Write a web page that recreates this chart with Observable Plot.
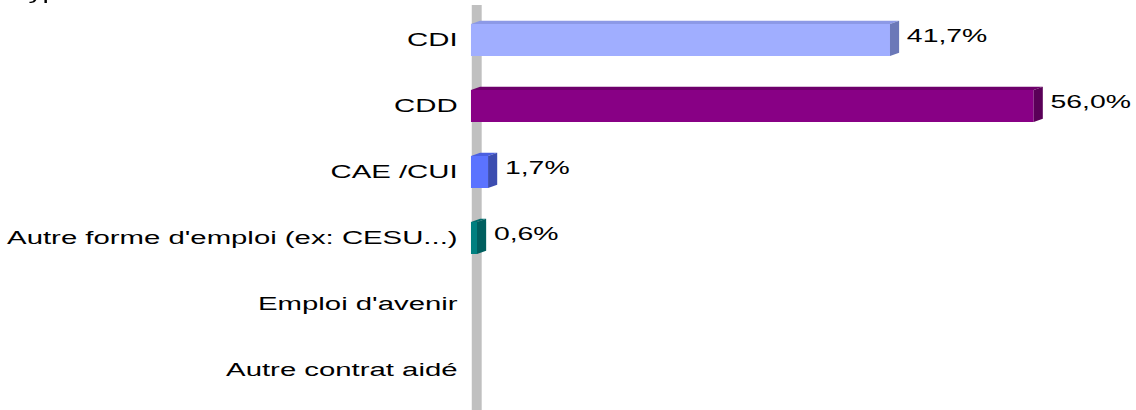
<!DOCTYPE html>
<html>
<head>
<meta charset="utf-8">
<script src="https://cdn.jsdelivr.net/npm/d3@7"></script>
<script src="https://cdn.jsdelivr.net/npm/@observablehq/plot@0.6"></script>
<style>
  html, body { margin: 0; padding: 0; background: #fff; overflow: hidden; }
  #wrap { position: relative; width: 720px; height: 410px; transform: scaleX(1.5778); transform-origin: 0 0; }
  #title { position: absolute; left: 8px; top: -16px; font: 18px "Liberation Sans", Arial, sans-serif; color: #000; line-height: 1; white-space: nowrap; }
</style>
</head>
<body>
<div id="wrap"><div id="title">Type de contrat</div></div>
<script>
const categories = ["CDI", "CDD", "CAE /CUI", "Autre forme d'emploi (ex: CESU...)", "Emploi d'avenir", "Autre contrat aidé"];
const values = [41.7, 56.0, 1.7, 0.6, 0, 0];
const valueLabels = ["41,7%", "56,0%", "1,7%", "0,6%", "", ""];
const frontColors = ["#a0aeff", "#880085", "#5b73ff", "#008080", "#a0aeff", "#a0aeff"];
const topColors = ["#8c99e6", "#6e006b", "#4b60e0", "#006d6d", "#8c99e6", "#8c99e6"];
const sideColors = ["#6b78b8", "#5a0058", "#3c4db0", "#005f5f", "#6b78b8", "#6b78b8"];

const rows = categories.map((c, i) => ({
  category: c, value: values[i], label: valueLabels[i],
  front: frontColors[i], top: topColors[i], side: sideColors[i]
}));
const shown = rows.filter(d => d.value > 0);

const depthX = 5.8, depthY = 3.3;

function faces3d(data) {
  return Plot.barX(data, {
    x: "value", y: "category",
    render(index, scales, values, dimensions, context, next) {
      const {x, y} = scales;
      const bw = typeof y.bandwidth === "function" ? y.bandwidth() : y.bandwidth;
      const g = d3.create("svg:g");
      for (const i of index) {
        const d = data[i];
        const x0 = x(0), x1 = x(d.value);
        const y0 = y(d.category), y1 = y0 + bw;
        g.append("polygon")
          .attr("points", [[x0, y0], [x0 + depthX, y0 - depthY], [x1 + depthX, y0 - depthY], [x1, y0]].join(" "))
          .attr("fill", d.top);
        g.append("polygon")
          .attr("points", [[x1, y0], [x1 + depthX, y0 - depthY], [x1 + depthX, y1 - depthY], [x1, y1]].join(" "))
          .attr("fill", d.side);
      }
      return g.node();
    }
  });
}

const chart = Plot.plot({
  width: 720,
  height: 410,
  marginTop: 5,
  marginBottom: 0,
  marginLeft: 298.5,
  marginRight: 39.4,
  style: {fontFamily: "'Liberation Sans', Arial, sans-serif", fontSize: "18px", background: "white", color: "#000"},
  x: {domain: [0, 60], range: [298.5, 680.6], axis: null},
  y: {domain: categories, range: [4.6, 405.4], paddingInner: 0.52, paddingOuter: 0.26, axis: null},
  marks: [
    Plot.ruleX([0], {stroke: "#c0c0c0", strokeWidth: 6.3, dx: 3.15}),
    Plot.barX(shown, {x: "value", y: "category", fill: "front"}),
    faces3d(shown),
    Plot.text(shown, {x: "value", y: "category", text: "label", textAnchor: "start", dx: depthX + 4.4, dy: -4.5, fontSize: 18, fill: "#000"}),
    Plot.axisY({tickSize: 0, tickPadding: 9, fontSize: 18.6, label: null, fill: "#000"})
  ]
});
document.getElementById("wrap").appendChild(chart);
</script>
</body>
</html>
